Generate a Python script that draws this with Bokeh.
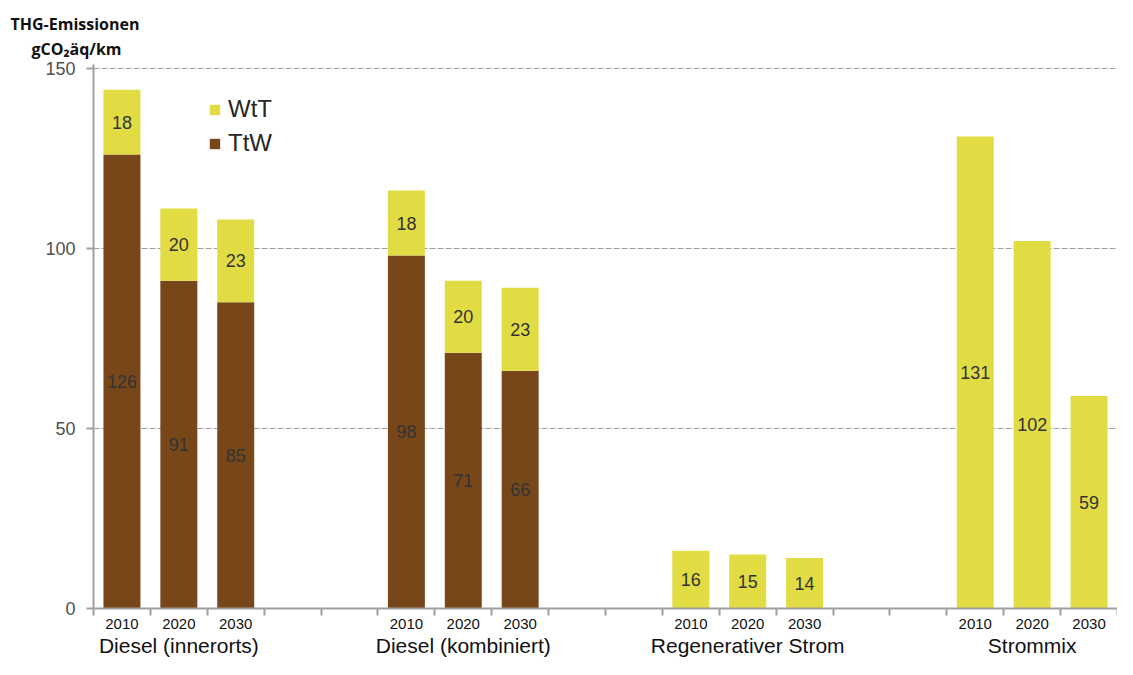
from bokeh.plotting import figure
from bokeh.models import FixedTicker, LinearAxis, Range1d, Legend, LegendItem, ColumnDataSource, Title
from bokeh.core.properties import value
from bokeh.embed import file_html
from bokeh.resources import INLINE

groups = ["Diesel (innerorts)", "Diesel (kombiniert)", "Regenerativer Strom", "Strommix"]
years = ["2010", "2020", "2030"]
ttw = [126, 91, 85, 98, 71, 66, 0, 0, 0, 0, 0, 0]
wtt = [18, 20, 23, 18, 20, 23, 16, 15, 14, 131, 102, 59]
y_ticks = [0, 50, 100, 150]

BROWN = "#77471A"
YELLOW = "#E2DC44"
GREY = "#a0a0a0"
FONT = "Liberation Sans"
SLOTS = 5

xs, yr_lab = [], []
for gi, g in enumerate(groups):
    for yi, y in enumerate(years):
        xs.append(gi * SLOTS + yi + 0.5)
        yr_lab.append(y)
n_slots = (len(groups) - 1) * SLOTS + len(years)

src = ColumnDataSource(dict(x=xs, TtW=ttw, WtT=wtt))

p = figure(width=1117, height=659, output_backend="svg", toolbar_location=None,
           x_range=Range1d(0, n_slots), y_range=Range1d(0, 151),
           min_border_left=93, min_border_right=0, min_border_top=64, min_border_bottom=50,
           x_axis_type=None)
p.outline_line_color = None
p.background_fill_color = "white"

rs = p.vbar_stack(["TtW", "WtT"], x="x", width=0.65, source=src,
                  color=[BROWN, YELLOW], line_color=None)

# value labels
lx, ly, lt = [], [], []
for x, a, b in zip(xs, ttw, wtt):
    if a > 0:
        lx.append(x); ly.append(a / 2); lt.append(str(a))
    if b > 0:
        lx.append(x); ly.append(a + b / 2); lt.append(str(b))
p.text(x=lx, y=ly, text=lt, text_align="center", text_baseline="middle",
       text_font=value(FONT), text_font_size="18px", text_color="#333333")

# y axis
ya = p.yaxis[0]
ya.ticker = FixedTicker(ticks=y_ticks, minor_ticks=[])
ya.axis_line_color = GREY
ya.axis_line_width = 2
ya.major_tick_line_color = GREY
ya.major_tick_line_width = 2
ya.major_tick_out = 7
ya.major_tick_in = 0
ya.major_label_text_font = FONT
ya.major_label_text_font_size = "18px"
ya.major_label_text_color = "#505050"
ya.major_label_standoff = 11

p.ygrid.ticker = FixedTicker(ticks=y_ticks)
p.ygrid.grid_line_color = GREY
p.ygrid.grid_line_dash = "6 2"
p.ygrid.grid_line_width = 1
p.xgrid.grid_line_color = None

# x axis: years with slot-boundary ticks
xa = LinearAxis(ticker=FixedTicker(ticks=xs, minor_ticks=list(range(n_slots + 1))),
                major_label_overrides={float(x): t for x, t in zip(xs, yr_lab)})
xa.axis_line_color = GREY
xa.axis_line_width = 2
xa.major_tick_line_color = None
xa.major_tick_out = 0
xa.major_tick_in = 0
xa.minor_tick_line_color = GREY
xa.minor_tick_line_width = 2
xa.minor_tick_out = 7
xa.minor_tick_in = 0
xa.major_label_text_font = FONT
xa.major_label_text_font_size = "15px"
xa.major_label_text_color = "#111111"
xa.major_label_standoff = 3
p.add_layout(xa, "below")

gc = [gi * SLOTS + 1.5 for gi in range(len(groups))]
ga = LinearAxis(ticker=FixedTicker(ticks=gc, minor_ticks=[]),
                major_label_overrides={float(x): g for x, g in zip(gc, groups)})
ga.axis_line_color = None
ga.major_tick_line_color = None
ga.minor_tick_line_color = None
ga.major_tick_out = 0
ga.major_tick_in = 0
ga.major_label_standoff = 2
ga.major_label_text_font = FONT
ga.major_label_text_font_size = "21px"
ga.major_label_text_color = "#111111"
p.add_layout(ga, "below")

# legend
leg = Legend(items=[LegendItem(label="WtT", renderers=[rs[1]]),
                    LegendItem(label="TtW", renderers=[rs[0]])],
             location=(115, 451), orientation="vertical")
leg.label_text_font = FONT
leg.label_text_font_size = "24px"
leg.label_text_color = "#262626"
leg.glyph_width = 13
leg.glyph_height = 13
leg.spacing = 6
leg.padding = 0
leg.margin = 0
leg.label_standoff = 7
leg.border_line_color = None
leg.background_fill_alpha = 0
p.add_layout(leg)

# axis title (two lines, top left)
p.add_layout(Title(text="gCO\u2082äq/km", align="left", offset=-62, text_font="Open Sans",
                   text_font_style="bold", text_font_size="16px", text_color="#111111",
                   standoff=10), "above")
p.add_layout(Title(text="THG-Emissionen", align="left", offset=-83, text_font="Open Sans",
                   text_font_style="bold", text_font_size="16px", text_color="#111111",
                   standoff=-9), "above")

open("out.html", "w").write(file_html(p, INLINE))
